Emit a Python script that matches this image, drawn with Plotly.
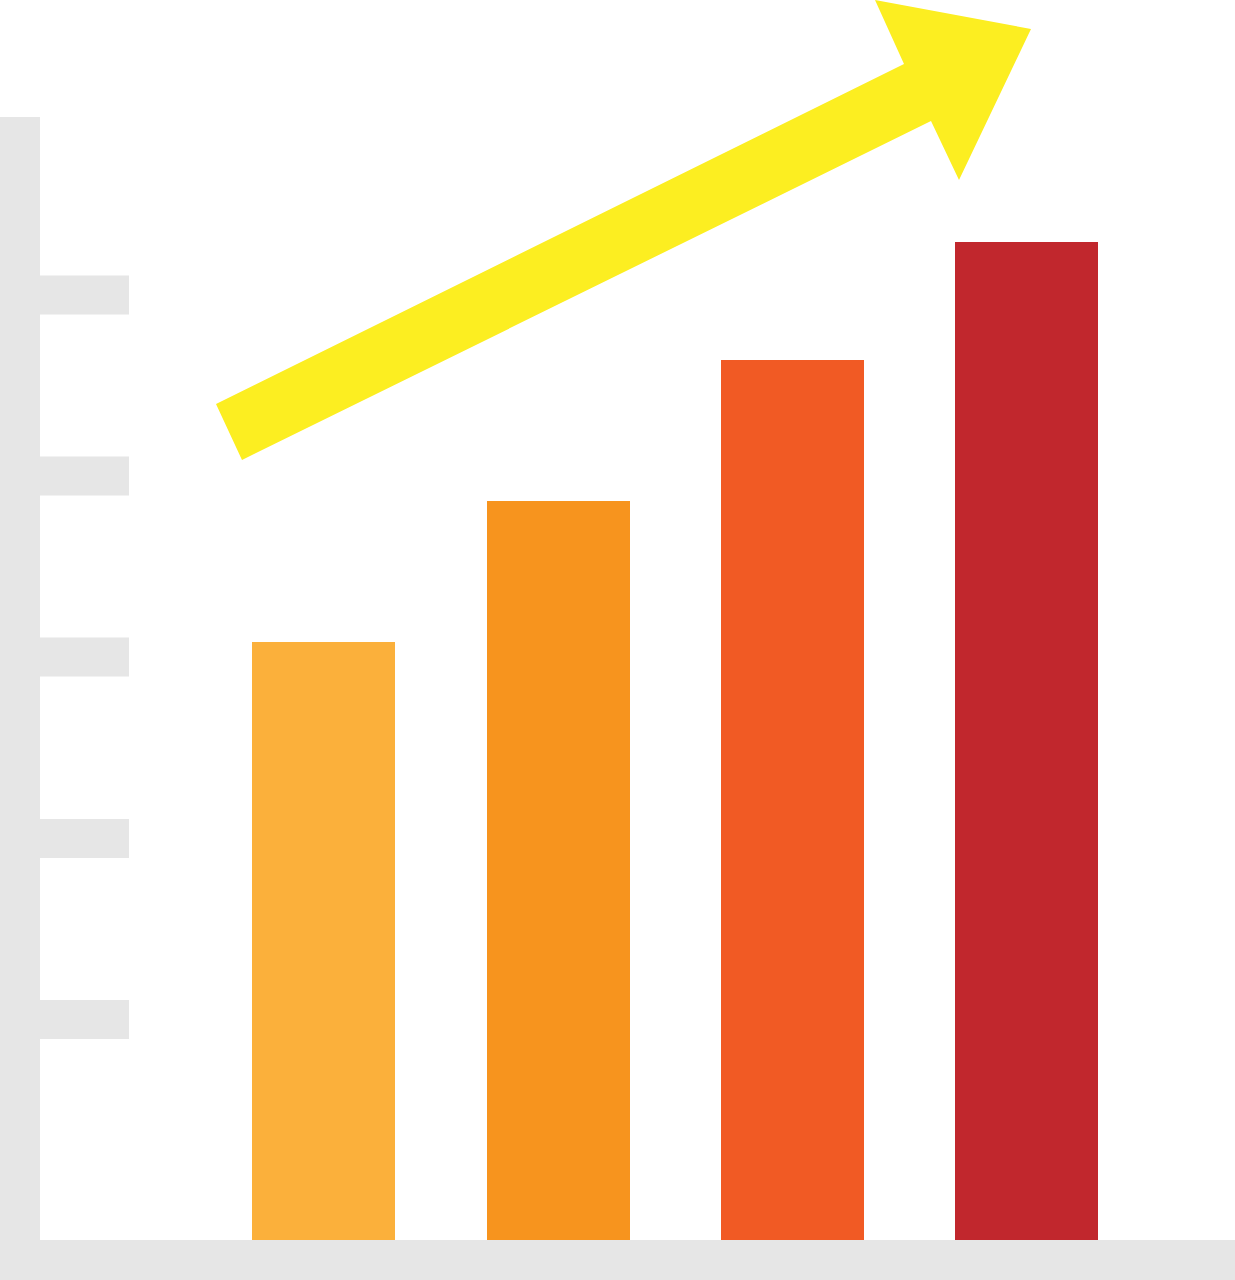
import plotly.graph_objects as go

# ===== data =====
bar_x = [323.5, 558.5, 792.5, 1026.5]     # bar centres
bar_h = [598, 739, 880, 998]              # bar heights above baseline
bar_colors = ["#FBB03B", "#F7941E", "#F15A24", "#C1272D"]
baseline = 40

tick_y = [985, 804, 623, 441.5, 260.5]    # tick centre heights (y up from bottom)

arrow_x = [216, 904, 875, 1031, 959, 931, 242]
arrow_y = [876, 1216, 1280, 1251, 1100, 1159, 820]

W, H = 1235, 1280
GRAY = "#E6E6E6"

fig = go.Figure()

# arrow
fig.add_trace(go.Scatter(
    x=arrow_x, y=arrow_y,
    fill="toself", mode="lines",
    line=dict(width=0, color="#FCEE21"),
    fillcolor="#FCEE21",
    hoverinfo="skip", showlegend=False
))

# bars
fig.add_trace(go.Bar(
    x=bar_x, y=bar_h, base=baseline,
    width=143,
    marker=dict(color=bar_colors, line=dict(width=0)),
    showlegend=False
))

# axis lines + ticks as shapes
shapes = [
    dict(type="rect", x0=0, x1=40, y0=0, y1=1163, fillcolor=GRAY, line_width=0, layer="below"),
    dict(type="rect", x0=0, x1=W, y0=0, y1=40, fillcolor=GRAY, line_width=0, layer="below"),
]
for ty in tick_y:
    shapes.append(dict(type="rect", x0=40, x1=129, y0=ty - 19.5, y1=ty + 19.5,
                       fillcolor=GRAY, line_width=0, layer="below"))

fig.update_layout(
    width=W, height=H,
    margin=dict(l=0, r=0, t=0, b=0),
    paper_bgcolor="white", plot_bgcolor="white",
    shapes=shapes,
    xaxis=dict(range=[0, W], visible=False, fixedrange=True),
    yaxis=dict(range=[0, H], visible=False, fixedrange=True),
    bargap=0,
)

fig.write_html("out.html", config={"displayModeBar": False},
               post_script="document.body.style.margin='0';")
